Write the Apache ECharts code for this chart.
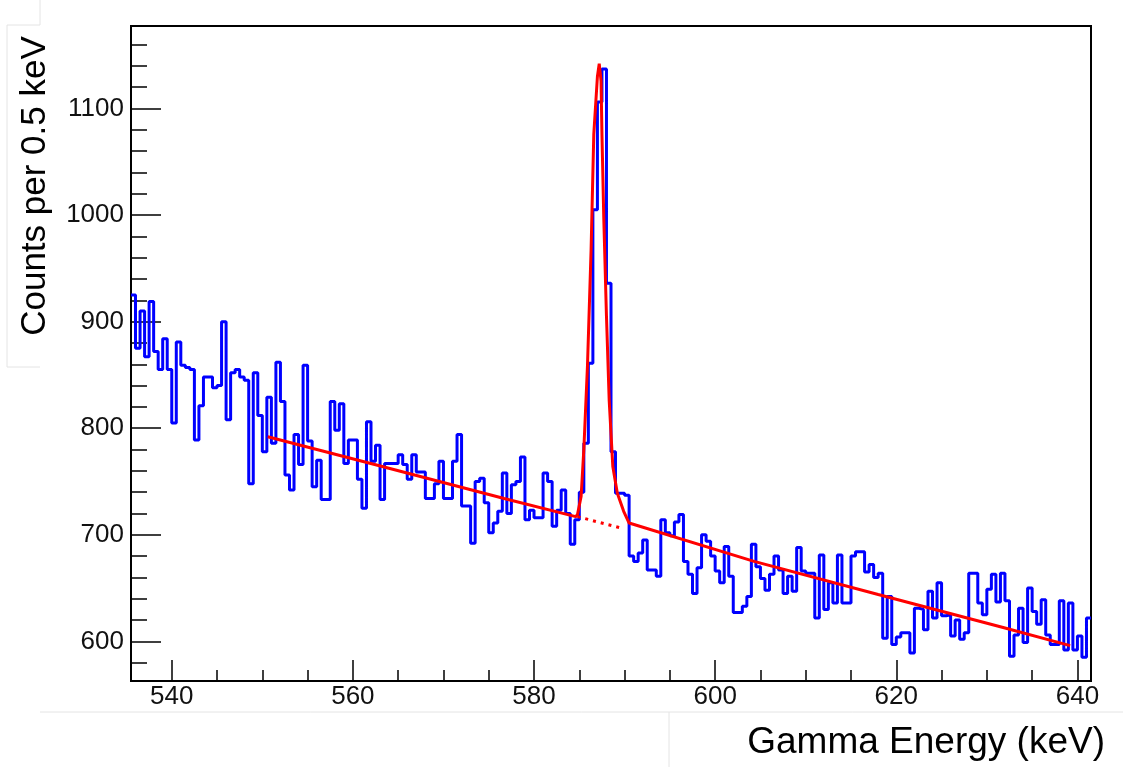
<!DOCTYPE html>
<html>
<head>
<meta charset="utf-8">
<script src="https://cdn.jsdelivr.net/npm/echarts@6/dist/echarts.min.js"></script>
<style>
html,body{margin:0;padding:0;background:#ffffff;}
#chart{width:1123px;height:767px;}
</style>
</head>
<body>
<div id="chart"></div>
<script>
// ---- histogram: 0.5 keV bins starting at 535.5 keV ----
const binStart = 535.5;
const binWidth = 0.5;
const countsA = [925,875,910,867,919,872,855,884,855,805,881,859,857,855,789,821,848,848,838,840,900,808,852,855,848,845,748];
const countsB = [852,812,778,829,786,862,825,756,742,794,766,859,788,745,770,733,733,825,798,823,767,789,789,752,725,806,769];
const countsC = [784,733,767,767,767,775,766,752,775,759,759,734,734,748,769,734,734,769,794,727,727,692,750,753,730,702,711,722];
const countsD = [758,720,747,750,773,714,723,716,716,758,750,708,723,742,720,691,714,740];
const countsPeak = [786,861,1005,1106,1137,936,778,739,739,737];
const countsE = [680,675,683,695,667,667,661,714,702,699,712,719,675,663,645,669,700,694,680,666,655,689,661,627,627,633,642,691];
const countsF = [670,659,648,663,680,667,645,661,647,688,666,664,664,622,681,630,655,636,681,636,636,680,684,684,665,672,660];
const countsG = [664,603,642,597,604,608,608,589,631,630,611,647,622,655,624,625,605,620,602,608,664,664,636,625,649,663,637];
const countsH = [664,638,586,606,631,599,650,628,616,639,606,597,597,638,592,636,592,605,585,622];

// ---- fit (red): total function ----
const fitE = [550.6,562.4,576.7,584.6,584.8,585.2,585.5,585.9,586.3,586.6,587.0,587.2,587.4,587.5,587.7,588.0,588.3,588.7,589.2,589.9,590.5,604.3,618.0,631.8,639.2];
const fitV = [792,766,734,717,719,736,780,858,967,1076,1130,1142,1126,1076,998,905,826,764,739,722,711,675,644,613,596];
// background under the peak (dotted)
const bgE = [584.8,589.8];
const bgV = [717,706];

// ---- axes ----
const xMajor = [540,560,580,600,620,640];
const xMinor = [545,550,555,565,570,575,585,590,595,605,610,615,625,630,635];
const yMajor = [600,700,800,900,1000,1100];
const yMinor = [580,620,640,660,680,720,740,760,780,820,840,860,880,920,940,960,980,1020,1040,1060,1080,1120,1140,1160];
const xTitle = 'Gamma Energy (keV)';
const yTitle = 'Counts per 0.5 keV';

const counts = [].concat(countsA,countsB,countsC,countsD,countsPeak,countsE,countsF,countsG,countsH);
const histData = counts.map((v,i)=>[binStart + i*binWidth, v]);
histData.push([binStart + counts.length*binWidth, counts[counts.length-1]]);
const fitData = fitE.map((e,i)=>[e, fitV[i]]);
const bgData = bgE.map((e,i)=>[e, bgV[i]]);

const FONT = '"Liberation Sans", Arial, Helvetica, sans-serif';
const X_MIN = 535.5, X_MAX = 641.5, Y_MIN = 562.8, Y_MAX = 1177.4;
const lbl = v => '{t|' + String(Math.round(v)) + '}';
const rich = {t:{fontSize:26, fontFamily:FONT, color:'#111'}};

const chart = echarts.init(document.getElementById('chart'), null, {renderer:'canvas'});
const faint = {stroke:'#e4e4e4', lineWidth:1};
chart.setOption({
  animation:false,
  backgroundColor:'#ffffff',
  textStyle:{fontFamily:FONT},
  grid:{left:131, right:32, top:26, bottom:86, show:true, borderColor:'#000', borderWidth:2, backgroundColor:'transparent'},
  xAxis:[
    {type:'value', min:X_MIN, max:X_MAX, position:'bottom',
     axisLine:{show:true, lineStyle:{color:'#000', width:2}},
     axisTick:{show:true, inside:true, length:21, customValues:xMajor, lineStyle:{color:'#000', width:1.5}},
     axisLabel:{show:true, customValues:xMajor, formatter:lbl, rich:rich, fontSize:26, color:'#111', margin:3, fontFamily:FONT},
     splitLine:{show:false}},
    {type:'value', min:X_MIN, max:X_MAX, position:'bottom',
     axisLine:{show:false},
     axisTick:{show:true, inside:true, length:11, customValues:xMinor, lineStyle:{color:'#000', width:1.5}},
     axisLabel:{show:false},
     splitLine:{show:false}}
  ],
  yAxis:[
    {type:'value', min:Y_MIN, max:Y_MAX, position:'left',
     axisLine:{show:true, lineStyle:{color:'#000', width:2}},
     axisTick:{show:true, inside:true, length:30, customValues:yMajor, lineStyle:{color:'#000', width:1.5}},
     axisLabel:{show:true, customValues:yMajor, formatter:lbl, rich:rich, fontSize:26, color:'#111', margin:7, fontFamily:FONT},
     splitLine:{show:false}},
    {type:'value', min:Y_MIN, max:Y_MAX, position:'left',
     axisLine:{show:false},
     axisTick:{show:true, inside:true, length:16, customValues:yMinor, lineStyle:{color:'#000', width:1.5}},
     axisLabel:{show:false},
     splitLine:{show:false}}
  ],
  series:[
    {type:'line', xAxisIndex:0, yAxisIndex:0, step:'end', data:histData, showSymbol:false, symbol:'none',
     lineStyle:{color:'#0000ff', width:3}, itemStyle:{color:'#0000ff'}, z:2},
    {type:'line', xAxisIndex:0, yAxisIndex:0, data:bgData, showSymbol:false, symbol:'none',
     lineStyle:{color:'#ff0000', width:3, type:[3,5]}, z:3},
    {type:'line', xAxisIndex:0, yAxisIndex:0, data:fitData, showSymbol:false, symbol:'none',
     lineStyle:{color:'#ff0000', width:3}, itemStyle:{color:'#ff0000'}, z:4}
  ],
  graphic:[
    {type:'line', shape:{x1:40,y1:0,x2:40,y2:25}, style:faint, silent:true},
    {type:'line', shape:{x1:7,y1:25,x2:40,y2:25}, style:faint, silent:true},
    {type:'line', shape:{x1:7,y1:25,x2:7,y2:367}, style:faint, silent:true},
    {type:'line', shape:{x1:7,y1:367,x2:40,y2:367}, style:faint, silent:true},
    {type:'line', shape:{x1:40,y1:712,x2:1123,y2:712}, style:faint, silent:true},
    {type:'line', shape:{x1:669,y1:712,x2:669,y2:767}, style:faint, silent:true},
    {type:'text', x:35, y:186, rotation:Math.PI/2,
     style:{text:yTitle, font:'35px '+FONT, fill:'#000', textAlign:'center', textVerticalAlign:'middle'}, silent:true},
    {type:'text', x:1105, y:743,
     style:{text:xTitle, font:'37px '+FONT, fill:'#000', textAlign:'right', textVerticalAlign:'middle'}, silent:true}
  ]
});
</script>
</body>
</html>
